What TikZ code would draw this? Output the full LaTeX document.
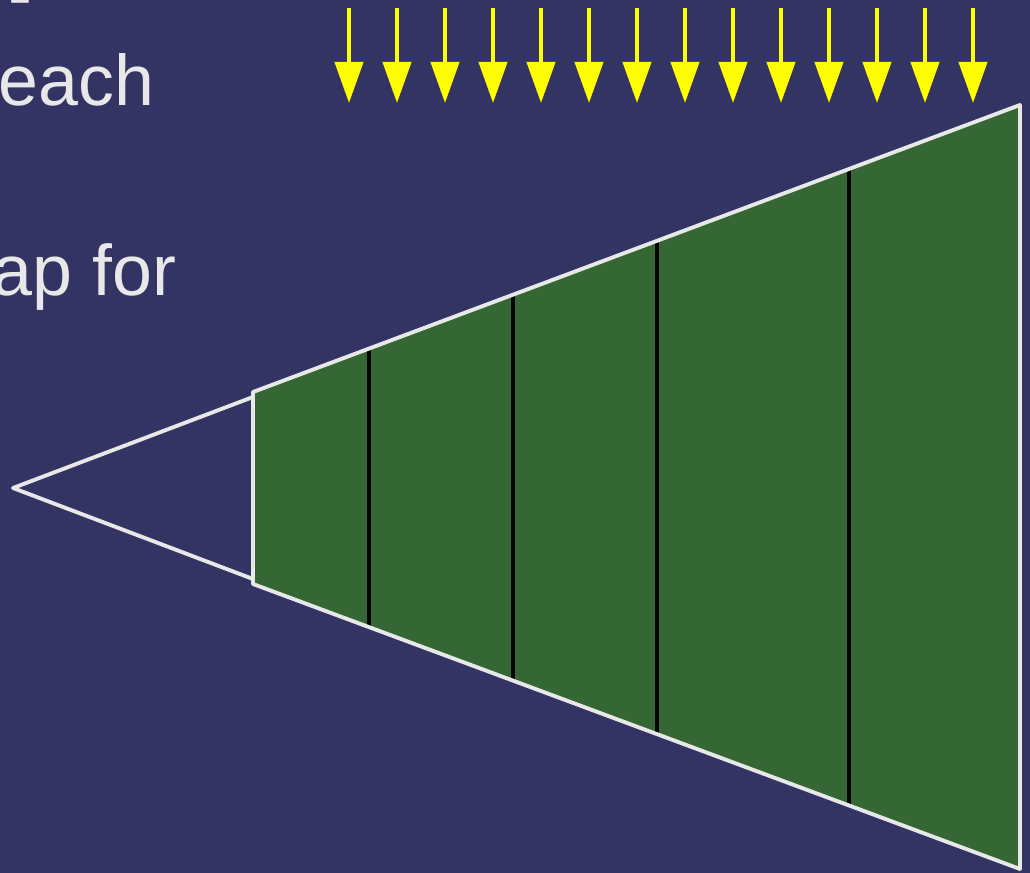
\documentclass[tikz,border=0pt]{standalone}
\usepackage{fontspec}
\setmainfont{Liberation Sans}
\usetikzlibrary{arrows.meta, calc}
\definecolor{SlideBlue}{RGB}{51,51,100}
\definecolor{FrustumGreen}{RGB}{53,103,52}
\definecolor{EdgeWhite}{RGB}{232,232,232}
\definecolor{RayYellow}{RGB}{255,255,0}

\begin{document}
\begin{tikzpicture}[
  x=0.01cm, y=-0.01cm,
  slidetext/.style={inner sep=0pt, text=EdgeWhite,
                    font=\fontsize{20.4}{24}\selectfont},
  edge/.style={draw=EdgeWhite, line width=1.1pt, line join=round},
  slice/.style={black, line width=1.1pt},
  ray/.style={RayYellow, line width=1.15pt,
              -{Triangle[length=0.41cm, width=0.28cm]}},
]

\useasboundingbox (0,0) rectangle (1030,873);
\fill[SlideBlue] (0,0) rectangle (1030,873);
\clip (0,0) rectangle (1030,873);

% text of the slide, cut at the left
\node[slidetext, anchor=base west] (hyph)  at (8,20)    {-};
\node[slidetext, anchor=base east] (each)  at (155,106) {each};
\node[slidetext, anchor=base east] (apfor) at (177,296) {ap for};

% view frustum
\coordinate (apex) at (13,488);
\coordinate (at)   at (253,397);
\coordinate (ab)   at (253,579);
\coordinate (nt)   at (253,392);
\coordinate (nb)   at (253,584);
\coordinate (ft)   at (1020,105);
\coordinate (fb)   at (1020,869);

\fill[FrustumGreen] (nt) -- (ft) -- (fb) -- (nb) -- cycle;
\foreach \sx in {369,513,657,849}
  \draw[slice] ($(nt)!{(\sx-253)/767}!(ft)$) -- ($(nb)!{(\sx-253)/767}!(fb)$);
\draw[edge] (nt) -- (ft) -- (fb) -- (nb) -- cycle;
\draw[edge] (at) -- (apex) -- (ab);

% incoming rays
\foreach \rx in {349,397,...,973}
  \draw[ray] (\rx,8) -- (\rx,103);

\end{tikzpicture}
\end{document}
